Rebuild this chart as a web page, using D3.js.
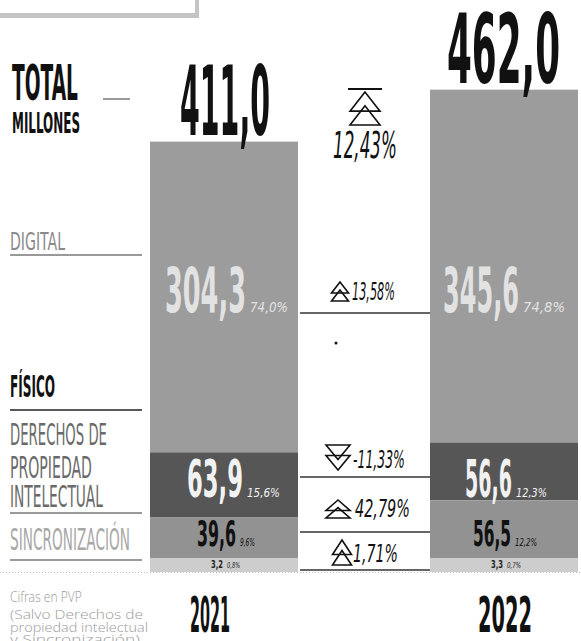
<!DOCTYPE html>
<html><head><meta charset="utf-8">
<script src="https://cdn.jsdelivr.net/npm/d3@7"></script>
<style>
html,body{margin:0;padding:0;background:#fff;}
svg{display:block;}
</style></head>
<body>
<script>
// ---------- DATA ----------
const years = ["2021", "2022"];
const totals = [411.0, 462.0];
const totalChange = 12.43;
const categories = ["Digital", "Derechos de propiedad intelectual", "Sincronización", "Otros"];
const values2021 = [304.3, 63.9, 39.6, 3.2];
const values2022 = [345.6, 56.6, 56.5, 3.3];
const shares2021 = ["74,0%", "15,6%", "9,6%", "0,8%"];
const shares2022 = ["74,8%", "12,3%", "12,2%", "0,7%"];
const changes = [13.58, -11.33, 42.79, 1.71];
const sideLabels = [["DIGITAL"], ["FÍSICO"], ["DERECHOS DE", "PROPIEDAD", "INTELECTUAL"], ["SINCRONIZACIÓN"]];
const noteLines = ["Cifras en PVP", "(Salvo Derechos de", "propiedad intelectual", "y Sincronización)"];

// ---------- LAYOUT ----------
const W = 581, H = 641;
const COND = "'Liberation Sans Narrow','DejaVu Sans Condensed','Roboto',sans-serif";
const svg = d3.select("body").append("svg").attr("width", W).attr("height", H);

const x = d3.scaleBand().domain(years).range([150, 578]).paddingInner(0.4714).paddingOuter(0);
const baseY = 558, minStrip = 14;
const y = d3.scaleLinear().domain([0, 462]).range([baseY, baseY - 462 * 1.021]);

const catColor = d3.scaleOrdinal().domain(categories).range(["#9c9c9c", "#565656", "#929292", "#cdcdcd"]);
const valueColor = ["#e2e2e2", "#f2f2f2", "#111", "#222"];

function fmt(v) { return d3.format(".1f")(v).replace(".", ","); }
function fmtPct(v) { return d3.format(".2f")(Math.abs(v)).replace(".", ",") + "%"; }

// text squeezed horizontally to a target width via a transform
function txt(g, s, xx, yy, o) {
  const t = g.append("text").attr("x", 0).attr("y", 0).text(s)
    .attr("font-family", o.family || COND)
    .attr("font-weight", o.weight || "bold")
    .attr("font-size", o.size)
    .attr("fill", o.fill || "#111");
  if (o.italic) t.attr("font-style", "italic");
  let sx = 1;
  if (o.len) {
    const w = t.node().getComputedTextLength();
    if (w > 0) sx = o.len / w;
  }
  t.attr("transform", `translate(${xx},${yy}) scale(${sx},1)`);
  return t;
}

// top-left decoration
svg.append("rect").attr("x", 0).attr("y", 13).attr("width", 199).attr("height", 5).attr("fill", "#c4c4c4");
svg.append("rect").attr("x", 195).attr("y", 0).attr("width", 4).attr("height", 18).attr("fill", "#c4c4c4");

// TOTAL MILLONES
txt(svg, "TOTAL", 12, 100, {size: 49, len: 66});
txt(svg, "MILLONES", 12, 133, {size: 29, len: 68});
svg.append("line").attr("x1", 103).attr("x2", 130).attr("y1", 99).attr("y2", 99).attr("stroke", "#777").attr("stroke-width", 1.5);

// bars
const series = [values2021, values2022];
const shares = [shares2021, shares2022];
series.forEach((vals, i) => {
  const g = svg.append("g");
  const bx = x(years[i]), bw = x.bandwidth();
  let acc = 0;
  const segs = [];
  const hOtros = Math.max(minStrip, y(0) - y(vals[3]));
  segs[3] = {y0: baseY + hOtros, y1: baseY};
  for (let c = 2; c >= 0; c--) {
    const top = y(acc + vals[c]), bot = y(acc);
    segs[c] = {y0: bot, y1: top};
    acc += vals[c];
  }
  segs.forEach((s, c) => {
    g.append("rect").attr("x", bx).attr("width", bw).attr("y", s.y1).attr("height", s.y0 - s.y1).attr("fill", catColor(categories[c]));
  });
  txt(svg, fmt(totals[i]), i === 0 ? 180 : 447, segs[0].y1 - 7, {size: 97, len: i === 0 ? 90 : 113});
  const valPos = [
    {x: i === 0 ? 165 : 443, y: 312, size: 62, len: i === 0 ? 81 : 76},
    {x: i === 0 ? 187 : 465, y: 497, size: 52, len: i === 0 ? 56 : 47},
    {x: i === 0 ? 197 : 473, y: 546, size: 36, len: i === 0 ? 39 : 38},
    {x: i === 0 ? 211 : 491, y: 568, size: 11, len: 12}
  ];
  valPos.forEach((p, c) => {
    txt(g, fmt(vals[c]), p.x, p.y, {size: p.size, len: p.len, fill: valueColor[c]});
    const pctSize = [14, 13, 10, 8][c];
    const pctLen = [[38, 42], [33, 31], [15, 22], [13, 14]][c][i];
    txt(g, shares[i][c], p.x + p.len + 4, p.y, {size: pctSize, len: pctLen, italic: true, weight: "normal", fill: valueColor[c]});
  });
  txt(svg, years[i], i === 0 ? 190 : 478, 632, {size: 49, len: i === 0 ? 40 : 54});
});

// bottom dotted baseline
svg.append("line").attr("x1", 0).attr("x2", 581).attr("y1", 572.5).attr("y2", 572.5)
  .attr("stroke", "#bbb").attr("stroke-width", 1).attr("stroke-dasharray", "1,2");

// ---------- middle column: changes ----------
const midX0 = 300, midX1 = 430;
function dblTri(g, cx, top, w, h, up) {
  const hw = w / 2;
  const t1a = up ? [[cx, top], [cx - hw, top + 0.58 * h], [cx + hw, top + 0.58 * h]]
                 : [[cx - hw, top], [cx + hw, top], [cx, top + 0.58 * h]];
  const t2a = up ? [[cx, top + 0.42 * h], [cx - hw, top + h], [cx + hw, top + h]]
                 : [[cx - hw, top + 0.42 * h], [cx + hw, top + 0.42 * h], [cx, top + h]];
  [t1a, t2a].forEach(p => g.append("path").attr("d", d3.line()(p) + "Z")
    .attr("fill", "none").attr("stroke", "#111").attr("stroke-width", 1.6).attr("stroke-linejoin", "miter"));
}
const mid = svg.append("g");
mid.append("line").attr("x1", 348).attr("x2", 382).attr("y1", 89).attr("y2", 89).attr("stroke", "#111").attr("stroke-width", 2);
dblTri(mid, 365, 92, 30, 33, true);
txt(mid, fmtPct(totalChange), 333, 158, {size: 38, len: 64, italic: true, weight: "normal"});

const rowLine = [313, 477, 532, 570];
const rowBase = [300, 468, 517, 562];
const symX = [340, 338, 338, 342];
const symTop = [282, 445, 500, 540];
const symW = [17, 24, 24, 19];
const symH = [19, 25, 18, 25];
const txtX = [352, 353, 355, 353];
const txtLen = [43, 52, 55, 45];
changes.forEach((v, c) => {
  dblTri(mid, symX[c], symTop[c], symW[c], symH[c], v >= 0);
  txt(mid, (v < 0 ? "-" : "") + fmtPct(v), txtX[c], rowBase[c], {size: 25, len: txtLen[c], italic: true, weight: "normal"});
  mid.append("line").attr("x1", midX0).attr("x2", midX1).attr("y1", rowLine[c]).attr("y2", rowLine[c])
    .attr("stroke", "#333").attr("stroke-width", 1.6);
});
mid.append("circle").attr("cx", 336).attr("cy", 343).attr("r", 1.5).attr("fill", "#111");

// ---------- side labels ----------
const side = svg.append("g");
const sideColor = ["#8a8a8a", "#111", "#6a6a6a", "#a8a8a8"];
const sideBase = [[250], [397], [445, 478, 507], [550]];
const sideLen = [[55], [45], [97, 82, 93], [120]];
const sideSize = [25, 30, 30, 30];
const underline = [255, 410, 513, 560];
sideLabels.forEach((lines, c) => {
  lines.forEach((s, k) => {
    txt(side, s, 10, sideBase[c][k], {size: sideSize[c], len: sideLen[c][k], fill: sideColor[c], weight: c === 1 ? "bold" : "normal"});
  });
  side.append("line").attr("x1", 10).attr("x2", 142).attr("y1", underline[c]).attr("y2", underline[c])
    .attr("stroke", c === 1 ? "#222" : "#777").attr("stroke-width", 1.5);
});

// ---------- note ----------
const note = svg.append("g");
const noteBase = [602, 619, 632, 644];
const noteSize = [15, 13, 13, 13];
const noteLen = [72, 133, 138, 130];
noteLines.forEach((s, k) => {
  txt(note, s, 10, noteBase[k], {family: "'Open Sans','DejaVu Sans',sans-serif", weight: 300, size: noteSize[k], len: noteLen[k], fill: "#9a9a9a"});
});
</script>
</body></html>
